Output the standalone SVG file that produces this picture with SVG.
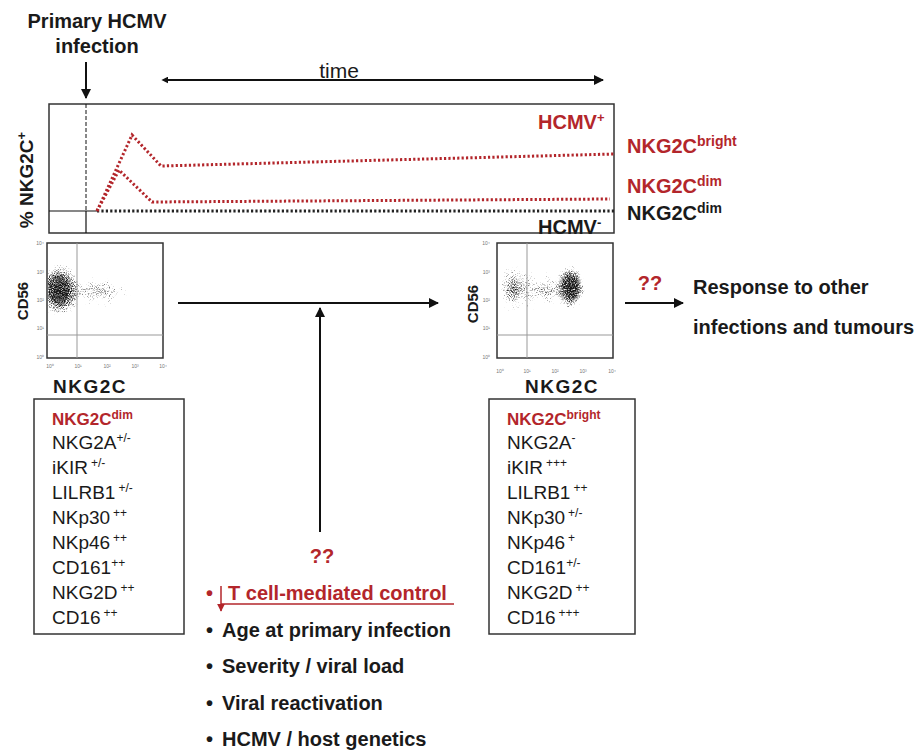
<svg xmlns="http://www.w3.org/2000/svg" width="923" height="756" viewBox="0 0 923 756">
<style>
text{font-family:"Liberation Sans",Arial,sans-serif;fill:#1a1a1a}
.b{font-weight:bold}
.red{fill:#b3262b}
.lst{font-size:19px}
.sup{font-size:12px}
.tick{font-size:5px;fill:#777}
.frame{fill:none;stroke:#333;stroke-width:1.5}
.gate{fill:none;stroke:#999;stroke-width:1}
.arr{stroke:#111;stroke-width:2;fill:none}
.rdot{fill:none;stroke:#b3262b;stroke-width:3;stroke-dasharray:2.2 2.2}
.kdot{fill:none;stroke:#222;stroke-width:3;stroke-dasharray:2.2 2.2}
</style>
<defs>
<marker id="ah" markerUnits="userSpaceOnUse" markerWidth="10" markerHeight="10" viewBox="0 0 10 10" refX="9" refY="5" orient="auto"><path d="M0,0 L10,5 L0,10 z" fill="#111"/></marker>
<marker id="ahs" markerUnits="userSpaceOnUse" markerWidth="7" markerHeight="7" viewBox="0 0 10 10" refX="2" refY="5" orient="auto-start-reverse"><path d="M0,0 L10,5 L0,10 z" fill="#111"/></marker>
<marker id="ahr" markerUnits="userSpaceOnUse" markerWidth="8" markerHeight="8" viewBox="0 0 10 10" refX="9" refY="5" orient="auto"><path d="M0,0 L10,5 L0,10 z" fill="#b3262b"/></marker>
<radialGradient id="g1"><stop offset="0" stop-color="#000" stop-opacity="1"/><stop offset="0.4" stop-color="#000" stop-opacity="0.85"/><stop offset="1" stop-color="#000" stop-opacity="0"/></radialGradient>
<radialGradient id="g2"><stop offset="0" stop-color="#000" stop-opacity="0.72"/><stop offset="1" stop-color="#000" stop-opacity="0"/></radialGradient>
<radialGradient id="g3"><stop offset="0" stop-color="#000" stop-opacity="0.6"/><stop offset="1" stop-color="#000" stop-opacity="0"/></radialGradient>
<filter id="speck" filterUnits="userSpaceOnUse" x="0" y="230" width="923" height="140" color-interpolation-filters="sRGB">
<feTurbulence type="fractalNoise" baseFrequency="0.95" numOctaves="2" seed="7" result="n"/>
<feColorMatrix in="n" type="matrix" values="0 0 0 0 0 0 0 0 0 0 0 0 0 0 0 1 0 0 0 0" result="na"/>
<feComposite in="SourceAlpha" in2="na" operator="arithmetic" k1="0" k2="1" k3="1.2" k4="-1.1" result="m"/>
<feComponentTransfer in="m"><feFuncA type="linear" slope="2" intercept="0"/></feComponentTransfer>
</filter>
<clipPath id="c1"><rect x="48" y="244" width="114" height="113"/></clipPath>
<clipPath id="c2"><rect x="498" y="244" width="114" height="113"/></clipPath>
</defs>

<g id="header">
<text class="b" x="97" y="28" font-size="20" text-anchor="middle">Primary HCMV</text>
<text class="b" x="97" y="53" font-size="20" text-anchor="middle">infection</text>
<text x="339" y="78" font-size="21" text-anchor="middle">time</text>
</g>

<g id="graph">
<rect class="frame" x="49" y="104" width="565" height="129"/>
<line x1="86" y1="104" x2="86" y2="211" stroke="#111" stroke-width="1" stroke-dasharray="4 2"/>
<line x1="86" y1="211" x2="86" y2="233" stroke="#111" stroke-width="1.2"/>
<line x1="49" y1="211" x2="97" y2="211" stroke="#111" stroke-width="1.2"/>
<polyline class="kdot" points="97,211 614,211"/>
<polyline class="rdot" points="97,211 132,135 161,166 614,154"/>
<polyline class="rdot" points="97,211 119,170 152,202 610,199"/>
<text class="b red" x="538" y="129" font-size="20">HCMV<tspan font-size="13" dy="-7">+</tspan></text>
<text class="b" x="538" y="234" font-size="20">HCMV<tspan font-size="13" dy="-7">-</tspan></text>
<text class="b" transform="translate(33,180) rotate(-90)" font-size="19" text-anchor="middle">% NKG2C<tspan font-size="13" dy="-7">+</tspan></text>
<text class="b red" x="627" y="153" font-size="20">NKG2C<tspan font-size="14" dy="-7">bright</tspan></text>
<text class="b red" x="627" y="193" font-size="20">NKG2C<tspan font-size="14" dy="-7">dim</tspan></text>
<text class="b" x="627" y="220" font-size="20">NKG2C<tspan font-size="14" dy="-7">dim</tspan></text>
</g>

<g id="plot1">
<g clip-path="url(#c1)" opacity="0.9"><g filter="url(#speck)">
<ellipse cx="98" cy="292" rx="48" ry="24" fill="url(#g3)"/>
<ellipse cx="59" cy="290" rx="24" ry="32" fill="url(#g1)"/>
</g></g>
<rect class="frame" x="47" y="243" width="116" height="115" stroke="#555" stroke-width="1.2"/>
<line class="gate" x1="77" y1="243" x2="77" y2="358"/>
<line class="gate" x1="47" y1="335" x2="163" y2="335"/>
<g class="ticks">
<text class="tick" x="44" y="245" text-anchor="end">10⁴</text>
<text class="tick" x="44" y="274" text-anchor="end">10³</text>
<text class="tick" x="44" y="302" text-anchor="end">10²</text>
<text class="tick" x="44" y="330" text-anchor="end">10¹</text>
<text class="tick" x="44" y="359" text-anchor="end">10⁰</text>
<text class="tick" x="50" y="368" text-anchor="middle">10⁰</text>
<text class="tick" x="78" y="368" text-anchor="middle">10¹</text>
<text class="tick" x="107" y="368" text-anchor="middle">10²</text>
<text class="tick" x="135" y="368" text-anchor="middle">10³</text>
<text class="tick" x="163" y="368" text-anchor="middle">10⁴</text>
</g>
<text class="b" transform="translate(28,301) rotate(-90)" font-size="15" text-anchor="middle">CD56</text>
<text class="b" x="90" y="393" font-size="19" letter-spacing="1.5" text-anchor="middle">NKG2C</text>
</g>

<g id="plot2">
<g clip-path="url(#c2)" opacity="0.9"><g filter="url(#speck)">
<ellipse cx="545" cy="290" rx="40" ry="26" fill="url(#g3)"/>
<ellipse cx="513" cy="288" rx="22" ry="34" fill="url(#g2)"/>
<ellipse cx="571" cy="287" rx="17" ry="26" fill="url(#g1)"/>
</g></g>
<rect class="frame" x="497" y="243" width="116" height="115" stroke="#555" stroke-width="1.2"/>
<line class="gate" x1="527" y1="243" x2="527" y2="358"/>
<line class="gate" x1="497" y1="335" x2="613" y2="335"/>
<g class="ticks">
<text class="tick" x="490" y="245" text-anchor="end">10⁴</text>
<text class="tick" x="490" y="274" text-anchor="end">10³</text>
<text class="tick" x="490" y="302" text-anchor="end">10²</text>
<text class="tick" x="490" y="330" text-anchor="end">10¹</text>
<text class="tick" x="490" y="359" text-anchor="end">10⁰</text>
<text class="tick" x="500" y="373" text-anchor="middle">10⁰</text>
<text class="tick" x="527" y="373" text-anchor="middle">10¹</text>
<text class="tick" x="555" y="373" text-anchor="middle">10²</text>
<text class="tick" x="583" y="373" text-anchor="middle">10³</text>
<text class="tick" x="612" y="373" text-anchor="middle">10⁴</text>
</g>
<text class="b" transform="translate(478,304) rotate(-90)" font-size="15" text-anchor="middle">CD56</text>
<text class="b" x="562" y="393" font-size="19" letter-spacing="1.5" text-anchor="middle">NKG2C</text>
</g>

<g id="response">
<text class="b red" x="650" y="290" font-size="20" text-anchor="middle">??</text>
<text class="b" x="693" y="294" font-size="20">Response to other</text>
<text class="b" x="693" y="334" font-size="20">infections and tumours</text>
</g>

<g id="box-dim">
<rect class="frame" x="34" y="399" width="150" height="235"/>
<text class="b red" x="52" y="425" font-size="17">NKG2C<tspan font-size="12" dy="-6">dim</tspan></text>
<text class="lst" x="52" y="449">NKG2A<tspan class="sup" dy="-7">+/-</tspan></text>
<text class="lst" x="52" y="474">iKIR<tspan class="sup" dx="3" dy="-7">+/-</tspan></text>
<text class="lst" x="52" y="499">LILRB1<tspan class="sup" dx="3" dy="-7">+/-</tspan></text>
<text class="lst" x="52" y="524">NKp30<tspan class="sup" dx="3" dy="-7">++</tspan></text>
<text class="lst" x="52" y="549">NKp46<tspan class="sup" dx="3" dy="-7">++</tspan></text>
<text class="lst" x="52" y="574">CD161<tspan class="sup" dy="-7">++</tspan></text>
<text class="lst" x="52" y="599">NKG2D<tspan class="sup" dx="3" dy="-7">++</tspan></text>
<text class="lst" x="52" y="624">CD16<tspan class="sup" dx="3" dy="-7">++</tspan></text>
</g>

<g id="box-bright">
<rect class="frame" x="489" y="399" width="146" height="235"/>
<text class="b red" x="507" y="425" font-size="17">NKG2C<tspan font-size="12" dy="-6">bright</tspan></text>
<text class="lst" x="507" y="449">NKG2A<tspan class="sup" dy="-7">-</tspan></text>
<text class="lst" x="507" y="474">iKIR<tspan class="sup" dx="3" dy="-7">+++</tspan></text>
<text class="lst" x="507" y="499">LILRB1<tspan class="sup" dx="3" dy="-7">++</tspan></text>
<text class="lst" x="507" y="524">NKp30<tspan class="sup" dx="3" dy="-7">+/-</tspan></text>
<text class="lst" x="507" y="549">NKp46<tspan class="sup" dx="3" dy="-7">+</tspan></text>
<text class="lst" x="507" y="574">CD161<tspan class="sup" dy="-7">+/-</tspan></text>
<text class="lst" x="507" y="599">NKG2D<tspan class="sup" dx="3" dy="-7">++</tspan></text>
<text class="lst" x="507" y="624">CD16<tspan class="sup" dx="3" dy="-7">+++</tspan></text>
</g>

<g id="factors">
<text class="b red" x="322" y="563" font-size="20" text-anchor="middle">??</text>
<text class="b red" x="206" y="600" font-size="20">•</text>
<line x1="221" y1="586" x2="221" y2="611" stroke="#b3262b" stroke-width="1.5" marker-end="url(#ahr)"/>
<text class="b red" x="228" y="600" font-size="20">T cell-mediated control</text>
<line x1="221" y1="604" x2="454" y2="604" stroke="#b3262b" stroke-width="1.5"/>
<text class="b" x="206" y="637" font-size="20">•</text>
<text class="b" x="222" y="637" font-size="20">Age at primary infection</text>
<text class="b" x="206" y="673" font-size="20">•</text>
<text class="b" x="222" y="673" font-size="20">Severity / viral load</text>
<text class="b" x="206" y="710" font-size="20">•</text>
<text class="b" x="222" y="710" font-size="20">Viral reactivation</text>
<text class="b" x="206" y="746" font-size="20">•</text>
<text class="b" x="222" y="746" font-size="20">HCMV / host genetics</text>
</g>

<g id="connectors">
<line class="arr" x1="86" y1="62" x2="86" y2="98" marker-end="url(#ah)"/>
<line class="arr" x1="167" y1="80" x2="603" y2="80" marker-start="url(#ahs)" marker-end="url(#ah)"/>
<line class="arr" x1="178" y1="303" x2="438" y2="303" stroke="#444" marker-end="url(#ah)"/>
<line class="arr" x1="320" y1="532" x2="320" y2="308" marker-end="url(#ah)"/>
<line class="arr" x1="625" y1="303" x2="683" y2="303" marker-end="url(#ah)"/>
</g>
</svg>
